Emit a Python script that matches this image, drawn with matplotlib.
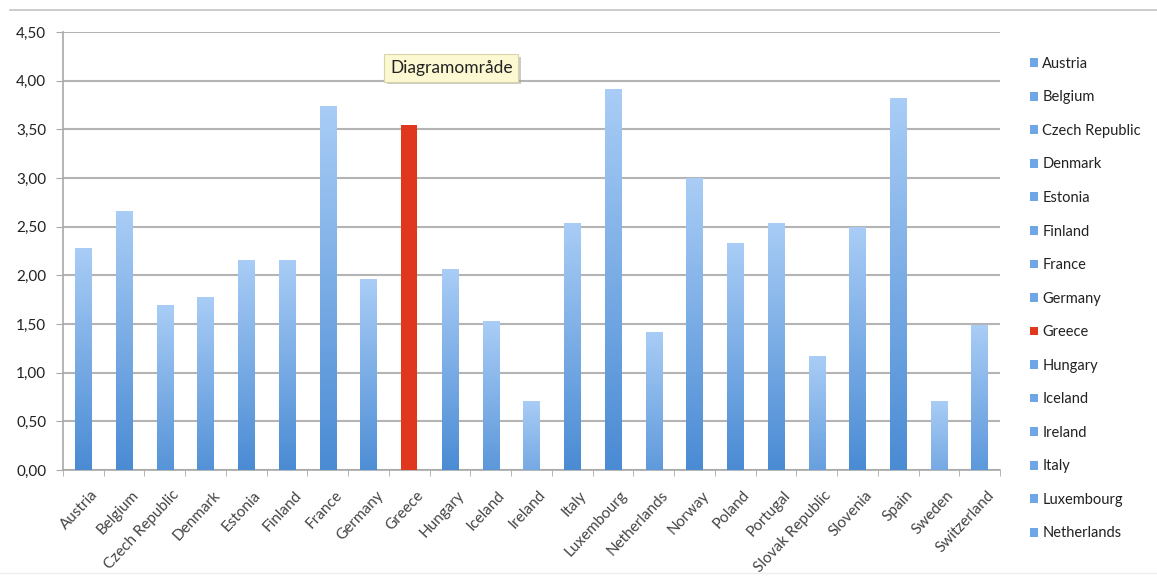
import numpy as np
import matplotlib
matplotlib.use("Agg")
import matplotlib.pyplot as plt
from matplotlib.lines import Line2D
from matplotlib.ticker import FuncFormatter, MultipleLocator
from matplotlib.colors import LinearSegmentedColormap
from matplotlib.transforms import ScaledTranslation
import matplotlib.patheffects as pe

countries = ["Austria", "Belgium", "Czech Republic", "Denmark", "Estonia", "Finland",
             "France", "Germany", "Greece", "Hungary", "Iceland", "Ireland", "Italy",
             "Luxembourg", "Netherlands", "Norway", "Poland", "Portugal",
             "Slovak Republic", "Slovenia", "Spain", "Sweden", "Switzerland"]
values = [2.28, 2.66, 1.70, 1.78, 2.16, 2.16, 3.74, 1.96, 3.54, 2.07, 1.53, 0.71,
          2.54, 3.91, 1.42, 3.00, 2.33, 2.54, 1.17, 2.50, 3.82, 0.71, 1.49]
highlight = "Greece"
legend_count = 15

plt.rcParams["font.family"] = ["Lato", "DejaVu Sans"]

W, H = 1157, 576
fig = plt.figure(figsize=(W / 100, H / 100), dpi=100)
ax = fig.add_axes([63 / W, 1 - 470 / H, (1000 - 63) / W, (470 - 32) / H])

x = np.arange(len(countries))
base_col = "#6fa6e6"
hi_col = "#e0381e"
colors = [hi_col if c == highlight else base_col for c in countries]
bars = ax.bar(x, values, width=0.4, color=colors, zorder=3, linewidth=0)

# each blue bar fades from a light top to a deeper blue toward the base
cmap = LinearSegmentedColormap.from_list("barfade", ["#4a8bd4", "#a9cdf6"])
for rect, c in zip(bars.patches, countries):
    if c == highlight:
        continue
    x0, w, h = rect.get_x(), rect.get_width(), rect.get_height()
    low = max(0.0, 1.0 - min(1.0, 0.3 + h / 3.0))
    grad = np.linspace(low, 1.0, 256).reshape(-1, 1)
    im = ax.imshow(grad, cmap=cmap, vmin=0, vmax=1, aspect="auto",
                   extent=[x0, x0 + w, 0, h], origin="lower", zorder=4)
    im.set_clip_path(rect)

ax.set_xlim(-0.5, len(countries) - 0.5)
ax.set_ylim(0, 4.5)
ax.yaxis.set_major_locator(MultipleLocator(0.5))
ax.yaxis.set_major_formatter(FuncFormatter(lambda v, p: f"{v:.2f}".replace(".", ",")))
ax.grid(axis="y", color="#b4b4b4", linewidth=1.5, zorder=1)
ax.set_axisbelow(True)

for s in ["top", "right"]:
    ax.spines[s].set_visible(False)
for s in ["left", "bottom"]:
    ax.spines[s].set_color("#a8a8a8")
    ax.spines[s].set_linewidth(1.2)

ax.set_xticks(x)
ax.set_xticklabels(countries, rotation=47, ha="right", rotation_mode="anchor",
                   fontsize=11, color="#444444")
ax.tick_params(axis="x", length=0, pad=13)
shift = ScaledTranslation(7 / 100, 0, fig.dpi_scale_trans)
for lab in ax.get_xticklabels():
    lab.set_transform(lab.get_transform() + shift)
ax.set_xticks(np.arange(-0.5, len(countries)), minor=True)
ax.tick_params(axis="x", which="minor", length=4, color="#a8a8a8")
ax.tick_params(axis="y", length=5, color="#a8a8a8", labelsize=11,
               labelcolor="#222222", pad=7)

handles = bars.patches[:legend_count]
leg = ax.legend(handles, countries[:legend_count], loc="upper left",
                bbox_to_anchor=(1024 / W, 1 - 51 / H), bbox_transform=fig.transFigure,
                frameon=False, fontsize=10.5, handlelength=0.55, handleheight=0.55,
                handletextpad=0.3, labelspacing=1.34, borderaxespad=0)
for t in leg.get_texts():
    t.set_color("#222222")

# tooltip over the chart area
tip = fig.text(390 / W, 1 - 68 / H, "Diagramområde", fontsize=12.5, color="#222222",
               va="center", ha="left",
               bbox=dict(boxstyle="square,pad=0.32", facecolor="#fbf8d2",
                         edgecolor="#d9d5a8", linewidth=0.8))
tip.get_bbox_patch().set_path_effects([
    pe.SimplePatchShadow(offset=(2, -2), shadow_rgbFace="#999999", alpha=0.5),
    pe.Normal()])

# frame lines at top and bottom of the sheet
fig.add_artist(Line2D([10 / W, 1], [1 - 10 / H, 1 - 10 / H], transform=fig.transFigure,
                      color="#c4c4c4", linewidth=1.2))
fig.add_artist(Line2D([0, 1], [1 - 573 / H, 1 - 573 / H], transform=fig.transFigure,
                      color="#eeeeee", linewidth=1.0))

fig.savefig("out.png", dpi=100)
